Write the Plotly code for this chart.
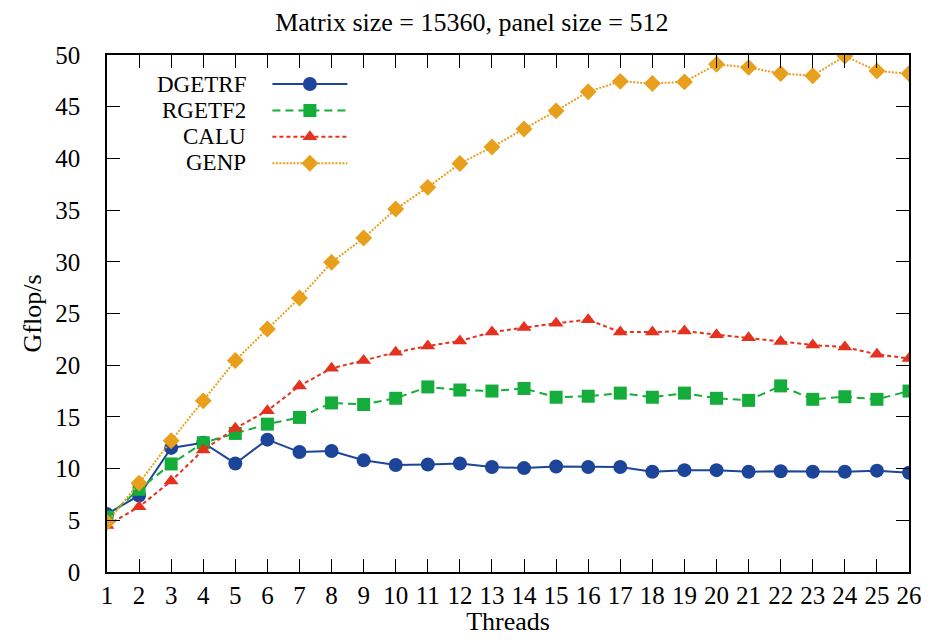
import plotly.graph_objects as go

threads = list(range(1, 27))
x_tick_labels = [str(t) for t in threads]
y_ticks = list(range(0, 51, 5))

dgetrf = [5.6, 7.4, 12.0, 12.5, 10.5, 12.8, 11.6, 11.7, 10.8, 10.35, 10.4, 10.5, 10.15,
          10.05, 10.2, 10.15, 10.15, 9.7, 9.85, 9.85, 9.7, 9.75, 9.7, 9.7, 9.8, 9.6]
rgetf2 = [5.3, 8.0, 10.45, 12.5, 13.4, 14.3, 14.95, 16.35, 16.2, 16.8, 17.9, 17.6, 17.5,
          17.75, 16.9, 17.0, 17.3, 16.9, 17.3, 16.8, 16.6, 18.0, 16.7, 16.95, 16.7, 17.5]
calu = [4.5, 6.3, 8.8, 11.8, 13.9, 15.6, 18.0, 19.7, 20.45, 21.25, 21.85, 22.35, 23.2,
        23.65, 24.05, 24.4, 23.2, 23.2, 23.3, 22.95, 22.65, 22.3, 21.95, 21.75, 21.05, 20.65]
genp = [4.8, 8.6, 12.7, 16.55, 20.45, 23.5, 26.5, 29.95, 32.3, 35.1, 37.2, 39.5, 41.1,
        42.85, 44.6, 46.45, 47.45, 47.25, 47.4, 49.1, 48.8, 48.2, 48.0, 49.9, 48.45, 48.2]

series_names = ["DGETRF", "RGETF2", "CALU", "GENP"]
series_values = [dgetrf, rgetf2, calu, genp]
colors = ["#1c4599", "#14ad3a", "#e5321e", "#e89f1c"]
dashes = ["solid", "8px,5px", "4px,3px", "2px,1.5px"]
symbols = ["circle", "square", "triangle-up", "diamond"]
sizes = [14, 13, 13, 13]

FONT = "Liberation Serif"
FS = 26

fig = go.Figure()
for name, vals, color, dash, sym, size in zip(series_names, series_values, colors, dashes, symbols, sizes):
    fig.add_trace(go.Scatter(
        x=threads, y=vals, name=name, mode="lines+markers",
        line=dict(color=color, width=2, dash=dash),
        marker=dict(symbol=sym, size=size, color=color, line=dict(width=0)),
    ))

# Legend labels shown to the left of the legend samples (as in the reference)
legend_label_y = [0.9439, 0.8936, 0.8433, 0.7930]
annotations = [
    dict(text=n, xref="paper", yref="paper", x=0.1756, y=yy, xanchor="right", yanchor="middle",
         showarrow=False, font=dict(family=FONT, size=23, color="black"))
    for n, yy in zip(series_names, legend_label_y)
]

fig.update_layout(
    width=913, height=628,
    margin=dict(l=99, r=12, t=47, b=64, autoexpand=False),
    paper_bgcolor="white", plot_bgcolor="white",
    font=dict(family=FONT, size=FS, color="black"),
    title=dict(text="Matrix size = 15360, panel size = 512", x=0.508, xanchor="center",
               y=0.9777, yanchor="middle", font=dict(family=FONT, size=26)),
    legend=dict(x=0.2, y=0.979, xanchor="left", yanchor="top", bgcolor="rgba(0,0,0,0)",
                font=dict(family=FONT, size=18, color="rgba(0,0,0,0)"), itemwidth=75,
                tracegroupgap=0),
    showlegend=True,
    annotations=annotations,
)
fig.update_xaxes(
    range=[1, 26], tickvals=threads, ticktext=x_tick_labels,
    ticks="inside", ticklen=13, tickwidth=1, tickcolor="black",
    showline=True, linecolor="black", linewidth=1.5, mirror="ticks",
    showgrid=False, zeroline=False, ticklabelstandoff=0, ticklabeloverflow="allow",
    tickfont=dict(family=FONT, size=25), automargin=False,
    title=dict(text="Threads", standoff=11, font=dict(family=FONT, size=FS)),
)
fig.update_yaxes(
    range=[0, 50], tickvals=y_ticks,
    ticks="inside", ticklen=13, tickwidth=1, tickcolor="black",
    showline=True, linecolor="black", linewidth=1.5, mirror="ticks",
    showgrid=False, zeroline=False, ticklabelstandoff=20,
    tickfont=dict(family=FONT, size=25), automargin=False,
    title=dict(text="Gflop/s", standoff=6, font=dict(family=FONT, size=FS)),
)

fig.write_html("out.html")
